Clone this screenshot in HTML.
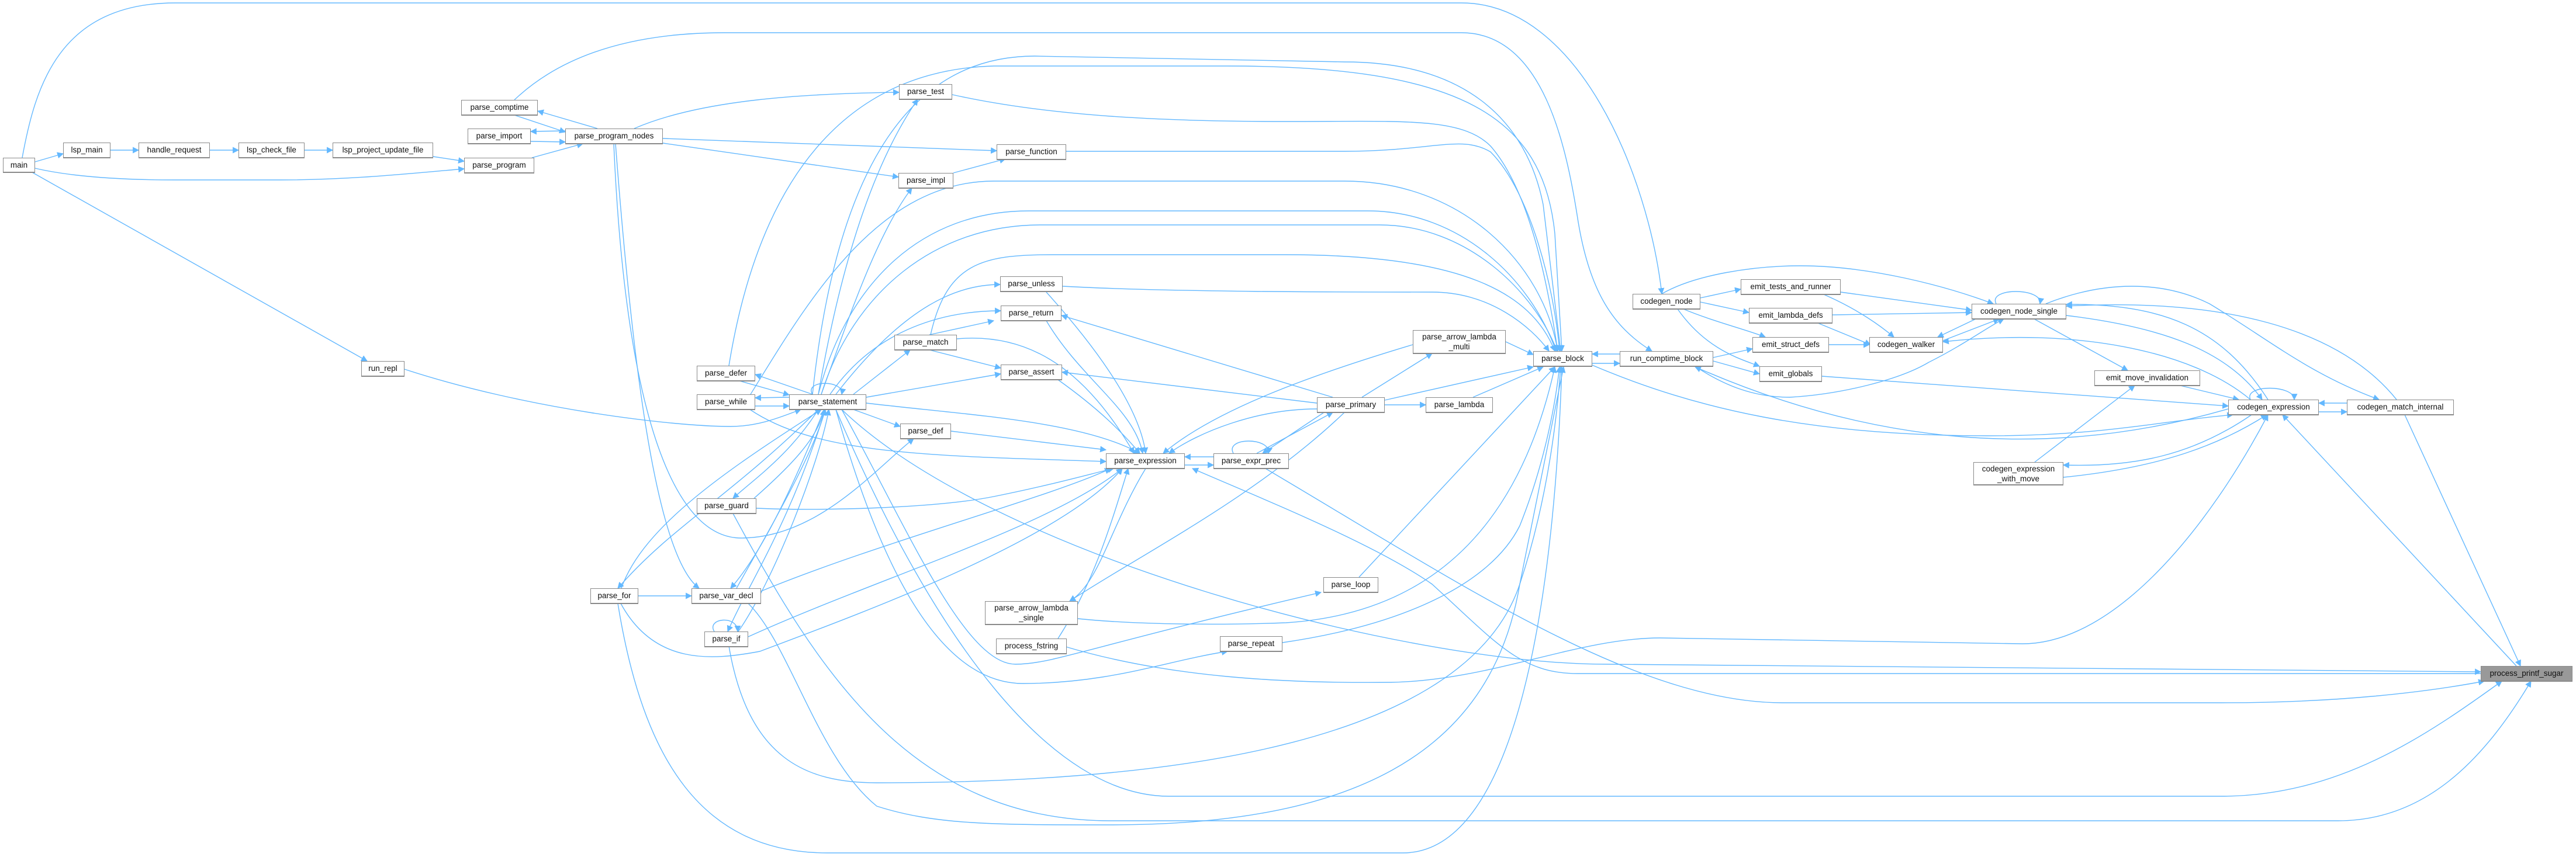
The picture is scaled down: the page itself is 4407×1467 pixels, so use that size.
<!DOCTYPE html>
<html><head><meta charset="utf-8">
<style>
html,body{margin:0;padding:0;background:#fff;}
#c{position:relative;width:4407px;height:1467px;overflow:hidden;background:#fff;}
svg{position:absolute;left:0;top:0;}
.n{position:absolute;box-sizing:border-box;background:#fff;border:1px solid #8a8a8a;border-bottom:2px solid #8a8a8a;
font-family:"Liberation Sans",sans-serif;font-size:13.5px;color:#111;text-align:center;line-height:24px;white-space:nowrap;}
.t{line-height:17px;padding-top:2px;}
.g{background:#999;}
</style></head><body><div id="c">
<svg width="4407" height="1467" viewBox="0 0 4407 1467">
<defs><marker id="a" viewBox="0 0 10 10" refX="9" refY="5" markerWidth="11" markerHeight="11" markerUnits="userSpaceOnUse" orient="auto"><path d="M0,0 L10,5 L0,10 z" fill="#63b8ff"/></marker></defs>
<g fill="none" stroke="#63b8ff" stroke-width="1.4" marker-end="url(#a)">
<path d="M60,277 L108,263"/>
<path d="M189,257 L237,257"/>
<path d="M359,257 L408,257"/>
<path d="M521,257 L569,257"/>
<path d="M741,268 L794,276"/>
<path d="M60,288 C120,302 200,308 300,308 L480,308 C600,308 700,297 794,289"/>
<path d="M55,295 L628,618"/>
<path d="M38,270 C60,150 100,5 300,5 L2500,5 C2700,5 2820,300 2843,503"/>
<path d="M910,270 L997,246"/>
<path d="M880,197 L967,226"/>
<path d="M1022,220 L920,190"/>
<path d="M967,224 L908,225"/>
<path d="M908,242 L967,243"/>
<path d="M880,171 C960,95 1080,56 1240,56 L2500,56 C2640,56 2680,250 2700,380 C2720,500 2760,560 2826,601"/>
<path d="M1134,237 L1705,258"/>
<path d="M1134,245 L1537,303"/>
<path d="M1085,220 C1200,170 1380,160 1538,158"/>
<path d="M1053,246 C1080,600 1120,950 1196,1007"/>
<path d="M1050,246 C1070,700 1150,921 1268,921 C1400,921 1500,800 1563,751"/>
<path d="M1390,675 C1375,650 1445,650 1440,675"/>
<path d="M1390,675 L1292,641"/>
<path d="M1265,652 L1350,676"/>
<path d="M1350,680 L1292,681"/>
<path d="M1292,695 L1350,695"/>
<path d="M1283,701 C1400,780 1600,780 1892,790"/>
<path d="M692,632 C900,700 1150,730 1250,730 C1300,730 1340,712 1370,701"/>
<path d="M1247,626 C1300,300 1450,120 1700,113 L2100,113 C2500,113 2640,200 2660,400 L2672,601"/>
<path d="M1284,675 C1380,520 1500,310 1700,310 L2300,310 C2500,310 2640,450 2665,601"/>
<path d="M1092,1020 L1183,1020"/>
<path d="M1400,701 C1250,850 1150,900 1057,1007"/>
<path d="M1063,1007 C1100,900 1250,800 1405,701"/>
<path d="M1057,1033 C1100,1300 1200,1460 1416,1460 L2400,1460 C2600,1460 2660,1000 2672,628"/>
<path d="M1062,1033 C1120,1140 1220,1130 1300,1115 C1500,1040 1820,920 1920,802"/>
<path d="M1400,701 C1350,780 1290,820 1254,853"/>
<path d="M1290,853 C1350,800 1400,750 1410,701"/>
<path d="M1294,870 C1400,875 1600,870 1700,850 C1800,830 1870,810 1905,802"/>
<path d="M1254,879 C1400,1150 1560,1405 1900,1405 L4000,1405 C4150,1405 4250,1300 4330,1166"/>
<path d="M1440,701 C1700,950 2400,1137 2750,1137 L4244,1150"/>
<path d="M1247,1106 C1280,1300 1380,1340 1500,1340 C1900,1340 2500,1300 2600,1000 C2650,850 2665,700 2670,628"/>
<path d="M1280,1033 C1350,1100 1400,1300 1500,1380 C1600,1412 1700,1412 1900,1412 C2300,1412 2550,1300 2600,1000 L2675,628"/>
<path d="M1430,701 C1600,1100 1800,1363 2000,1363 L3800,1363 C4000,1363 4150,1260 4280,1166"/>
<path d="M2076,782 L2027,782"/>
<path d="M2027,796 L2076,796"/>
<path d="M2110,776 C2095,748 2175,748 2170,776"/>
<path d="M2150,776 L2280,706"/>
<path d="M2265,706 L2160,776"/>
<path d="M2300,706 C2150,850 1950,950 1830,1029"/>
<path d="M2165,802 C2500,1000 2800,1203 3050,1203 L3800,1203 C4000,1203 4150,1185 4250,1166"/>
<path d="M4244,1153 L2700,1153 C2600,1153 2560,1100 2450,1000 C2350,930 2150,850 2040,802"/>
<path d="M1844,1059 C1950,1070 2100,1070 2200,1066 C2450,1050 2600,900 2660,628"/>
<path d="M2325,988 L2660,628"/>
<path d="M1440,701 C1550,900 1650,1137 1737,1137 C1800,1137 1850,1110 2260,1014"/>
<path d="M1430,701 C1500,950 1600,1170 1750,1170 C1900,1170 2000,1130 2100,1115"/>
<path d="M2194,1100 C2400,1070 2550,1000 2600,900 C2640,800 2660,700 2668,628"/>
<path d="M1823,1107 C2000,1160 2200,1170 2380,1168 C2550,1165 2700,1092 2840,1092 L3460,1102 C3620,1102 3780,900 3880,710"/>
<path d="M1810,1093 C1870,1000 1900,900 1930,802"/>
<path d="M1960,802 C1900,900 1880,1000 1830,1029"/>
<path d="M1482,690 C1650,710 1850,720 1950,776"/>
<path d="M1810,650 C1880,700 1920,740 1950,776"/>
<path d="M1790,549 C1850,650 1940,700 1955,776"/>
<path d="M1790,500 C1880,600 1950,700 1960,776"/>
<path d="M1627,738 L1892,770"/>
<path d="M1637,580 C1750,570 1850,620 1940,776"/>
<path d="M2253,700 C2150,700 2050,740 2000,776"/>
<path d="M2417,590 C2250,640 2080,700 1990,776"/>
<path d="M1280,1090 C1500,990 1800,900 1920,802"/>
<path d="M1302,1012 C1500,930 1800,850 1900,802"/>
<path d="M2280,680 L1816,540"/>
<path d="M2253,690 L1817,637"/>
<path d="M2369,693 L2439,693"/>
<path d="M2330,680 L2450,605"/>
<path d="M2369,685 L2623,628"/>
<path d="M2520,680 L2640,628"/>
<path d="M2576,585 L2623,607"/>
<path d="M2724,622 L2771,622"/>
<path d="M2771,606 L2724,606"/>
<path d="M1482,680 L1712,640"/>
<path d="M1590,573 L1700,549"/>
<path d="M1590,599 L1712,630"/>
<path d="M1460,675 L1557,599"/>
<path d="M1592,573 C1620,450 1680,436 1800,436 L2200,436 C2500,436 2620,500 2660,601"/>
<path d="M1430,675 C1550,520 1640,487 1711,487"/>
<path d="M1420,675 C1500,560 1620,532 1712,532"/>
<path d="M1818,490 C2000,500 2300,500 2450,500 C2550,500 2620,560 2650,601"/>
<path d="M1460,701 L1540,730"/>
<path d="M1405,675 C1450,550 1500,400 1560,322"/>
<path d="M1631,296 L1720,272"/>
<path d="M1400,675 C1430,500 1480,300 1570,170"/>
<path d="M1629,162 C1800,200 2000,208 2200,208 C2400,208 2500,200 2550,250 C2620,330 2650,500 2665,601"/>
<path d="M1824,259 L2300,259 C2450,259 2500,230 2550,260 C2620,330 2660,500 2668,601"/>
<path d="M1400,675 C1450,480 1580,361 1760,361 L2340,361 C2500,361 2620,480 2662,601"/>
<path d="M1405,675 C1460,500 1600,385 1780,385 L2360,385 C2510,385 2625,500 2664,601"/>
<path d="M1390,675 C1430,300 1550,96 1770,96 L2300,106 C2500,106 2610,200 2640,350 L2670,601"/>
<path d="M1410,701 C1350,850 1300,950 1250,1007"/>
<path d="M1260,1007 C1320,900 1390,780 1412,701"/>
<path d="M1412,701 C1350,900 1280,1000 1245,1081"/>
<path d="M1263,1081 C1320,1000 1400,800 1418,701"/>
<path d="M1222,1081 C1208,1058 1262,1052 1262,1081"/>
<path d="M2909,510 L2978,495"/>
<path d="M2909,517 L2992,535"/>
<path d="M2880,529 C2930,550 2990,565 3020,577"/>
<path d="M2870,529 C2920,600 2980,615 3010,627"/>
<path d="M2931,612 L2998,597"/>
<path d="M2931,618 L3010,640"/>
<path d="M2843,503 C2900,470 3000,455 3080,455 C3200,455 3330,490 3410,520"/>
<path d="M2900,627 C2950,660 3000,680 3062,680 C3150,675 3250,650 3300,620 C3360,590 3400,560 3428,546"/>
<path d="M3812,700 C3500,790 3200,760 2900,628"/>
<path d="M3149,500 L3373,531"/>
<path d="M3120,504 C3180,530 3220,560 3240,577"/>
<path d="M3135,539 L3373,535"/>
<path d="M3110,553 L3200,590"/>
<path d="M3129,590 L3198,590"/>
<path d="M3380,546 L3315,577"/>
<path d="M3324,583 L3420,546"/>
<path d="M3415,520 C3400,492 3495,492 3490,520"/>
<path d="M3480,546 L3640,634"/>
<path d="M3535,540 C3700,560 3810,600 3870,684"/>
<path d="M3880,684 C3800,560 3700,520 3535,521"/>
<path d="M3850,684 C3750,600 3550,560 3324,585"/>
<path d="M3500,520 C3600,480 3700,480 3780,520 C3880,580 3950,640 4070,684"/>
<path d="M4100,684 C4000,560 3800,510 3535,524"/>
<path d="M3117,644 L3812,695"/>
<path d="M3730,660 L3830,684"/>
<path d="M3850,684 C3838,658 3925,658 3925,684"/>
<path d="M4015,690 L3967,690"/>
<path d="M3967,705 L4015,705"/>
<path d="M3852,710 C3750,780 3650,800 3530,796"/>
<path d="M3530,817 C3700,800 3800,760 3878,710"/>
<path d="M3481,791 L3652,660"/>
<path d="M4114,710 L4312,1140"/>
<path d="M4305,1140 L3905,710"/>
<path d="M2724,625 C2900,700 3100,746 3400,746 C3600,746 3700,720 3820,710"/>
</g></svg>
<div class="n" style="left:5px;top:270px;width:55px;height:26px">main</div>
<div class="n" style="left:108px;top:244px;width:81px;height:27px">lsp_main</div>
<div class="n" style="left:237px;top:244px;width:122px;height:27px">handle_request</div>
<div class="n" style="left:408px;top:244px;width:113px;height:27px">lsp_check_file</div>
<div class="n" style="left:569px;top:244px;width:172px;height:27px">lsp_project_update_file</div>
<div class="n" style="left:794px;top:270px;width:120px;height:27px">parse_program</div>
<div class="n" style="left:789px;top:171px;width:131px;height:27px">parse_comptime</div>
<div class="n" style="left:800px;top:220px;width:108px;height:27px">parse_import</div>
<div class="n" style="left:967px;top:220px;width:167px;height:27px">parse_program_nodes</div>
<div class="n" style="left:618px;top:618px;width:74px;height:27px">run_repl</div>
<div class="n" style="left:1192px;top:626px;width:100px;height:27px">parse_defer</div>
<div class="n" style="left:1192px;top:675px;width:100px;height:27px">parse_while</div>
<div class="n" style="left:1350px;top:675px;width:132px;height:27px">parse_statement</div>
<div class="n" style="left:1192px;top:853px;width:102px;height:27px">parse_guard</div>
<div class="n" style="left:1183px;top:1007px;width:119px;height:27px">parse_var_decl</div>
<div class="n" style="left:1205px;top:1081px;width:75px;height:27px">parse_if</div>
<div class="n" style="left:1010px;top:1007px;width:82px;height:27px">parse_for</div>
<div class="n" style="left:1538px;top:144px;width:91px;height:27px">parse_test</div>
<div class="n" style="left:1705px;top:247px;width:119px;height:27px">parse_function</div>
<div class="n" style="left:1537px;top:296px;width:94px;height:27px">parse_impl</div>
<div class="n" style="left:1711px;top:473px;width:107px;height:27px">parse_unless</div>
<div class="n" style="left:1712px;top:523px;width:104px;height:27px">parse_return</div>
<div class="n" style="left:1530px;top:573px;width:107px;height:27px">parse_match</div>
<div class="n" style="left:1712px;top:624px;width:105px;height:27px">parse_assert</div>
<div class="n" style="left:1540px;top:725px;width:87px;height:27px">parse_def</div>
<div class="n" style="left:1892px;top:776px;width:135px;height:27px">parse_expression</div>
<div class="n" style="left:2076px;top:776px;width:129px;height:27px">parse_expr_prec</div>
<div class="n t" style="left:1685px;top:1029px;width:159px;height:41px">parse_arrow_lambda<br>_single</div>
<div class="n" style="left:1704px;top:1093px;width:121px;height:27px">process_fstring</div>
<div class="n" style="left:2087px;top:1089px;width:107px;height:27px">parse_repeat</div>
<div class="n" style="left:2264px;top:988px;width:94px;height:27px">parse_loop</div>
<div class="n" style="left:2253px;top:680px;width:116px;height:27px">parse_primary</div>
<div class="n" style="left:2439px;top:680px;width:115px;height:27px">parse_lambda</div>
<div class="n t" style="left:2417px;top:565px;width:159px;height:41px">parse_arrow_lambda<br>_multi</div>
<div class="n" style="left:2623px;top:601px;width:101px;height:27px">parse_block</div>
<div class="n" style="left:2771px;top:601px;width:160px;height:27px">run_comptime_block</div>
<div class="n" style="left:2793px;top:503px;width:116px;height:27px">codegen_node</div>
<div class="n" style="left:2978px;top:478px;width:171px;height:27px">emit_tests_and_runner</div>
<div class="n" style="left:2992px;top:527px;width:143px;height:27px">emit_lambda_defs</div>
<div class="n" style="left:2998px;top:577px;width:131px;height:27px">emit_struct_defs</div>
<div class="n" style="left:3010px;top:627px;width:107px;height:27px">emit_globals</div>
<div class="n" style="left:3198px;top:577px;width:126px;height:27px">codegen_walker</div>
<div class="n" style="left:3373px;top:520px;width:162px;height:27px">codegen_node_single</div>
<div class="n" style="left:3583px;top:634px;width:181px;height:27px">emit_move_invalidation</div>
<div class="n" style="left:3812px;top:684px;width:155px;height:27px">codegen_expression</div>
<div class="n" style="left:4015px;top:684px;width:183px;height:27px">codegen_match_internal</div>
<div class="n t" style="left:3376px;top:791px;width:154px;height:40px">codegen_expression<br>_with_move</div>
<div class="n g" style="left:4244px;top:1140px;width:157px;height:27px">process_printf_sugar</div>
</div></body></html>
